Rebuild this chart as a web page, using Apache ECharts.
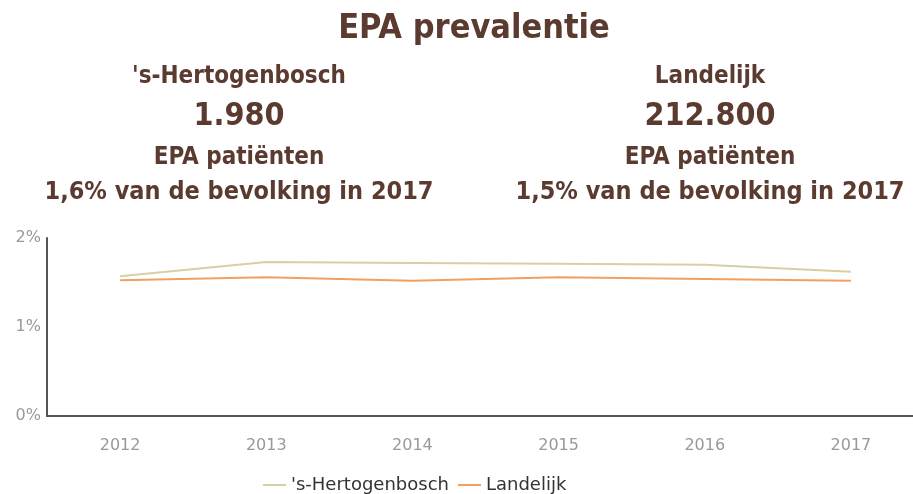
<!DOCTYPE html>
<html>
<head>
<meta charset="utf-8">
<script src="https://cdn.jsdelivr.net/npm/echarts@6/dist/echarts.min.js"></script>
<style>
  html, body { margin: 0; padding: 0; background: #fff; }
  #chart { width: 913px; height: 494px; }
</style>
</head>
<body>
<div id="chart"></div>
<script>
// Jaren op de x-as
const years = ['2012', '2013', '2014', '2015', '2016', '2017'];
// EPA-prevalentie als percentage van de bevolking
const hertogenbosch = [1.57, 1.73, 1.72, 1.71, 1.70, 1.62];
const landelijk = [1.525, 1.56, 1.52, 1.56, 1.54, 1.52];
const seriesNames = ["'s-Hertogenbosch", 'Landelijk'];
const yTicks = [0, 1, 2];

// Kerncijfers boven de grafiek
const heading = 'EPA prevalentie';
const regions = ["'s-Hertogenbosch", 'Landelijk'];
const patientCounts = ['1.980', '212.800'];
const shares = ['1,6% van de bevolking in 2017', '1,5% van de bevolking in 2017'];

const brown = '#5b3a30';
const font = '"Liberation Sans Narrow", "DejaVu Sans Condensed", "Roboto", sans-serif';
const axisFont = '"DejaVu Sans", sans-serif';
const colCenters = [234, 705];

const titles = [{
  text: heading, left: 469, top: 7, textAlign: 'center',
  textStyle: { color: brown, fontSize: 34, fontWeight: 'bold', fontFamily: font }
}];
regions.forEach((r, i) => {
  titles.push({ text: r, left: colCenters[i], top: 60, textAlign: 'center',
    textStyle: { color: brown, fontSize: 24, fontWeight: 'bold', fontFamily: font } });
  titles.push({ text: patientCounts[i], left: colCenters[i], top: 96, textAlign: 'center',
    textStyle: { color: brown, fontSize: 32, fontWeight: 'bold', fontFamily: font } });
  titles.push({ text: 'EPA patiënten', left: colCenters[i], top: 141, textAlign: 'center',
    textStyle: { color: brown, fontSize: 24, fontWeight: 'bold', fontFamily: font } });
  titles.push({ text: shares[i], left: colCenters[i], top: 175, textAlign: 'center',
    textStyle: { color: brown, fontSize: 25, fontWeight: 'bold', fontFamily: font } });
});

const chart = echarts.init(document.getElementById('chart'));
chart.setOption({
  animation: false,
  title: titles,
  legend: {
    top: 471, left: 258,
    itemWidth: 23, itemHeight: 2, itemGap: 9,
    icon: 'rect',
    textStyle: { color: '#333', fontSize: 18, fontFamily: axisFont },
    data: seriesNames
  },
  grid: { left: 47, width: 877, top: 238, height: 178, outerBoundsMode: 'none', containLabel: false },
  xAxis: {
    type: 'category', data: years, boundaryGap: true,
    axisLine: { lineStyle: { color: '#555', width: 2 } },
    axisTick: { alignWithLabel: true, length: 10, lineStyle: { color: '#444', width: 2 } },
    axisLabel: { color: '#999', fontSize: 16, margin: 22, fontFamily: axisFont }
  },
  yAxis: {
    type: 'value', min: 0, max: 2, interval: 1,
    axisLine: { show: true, lineStyle: { color: '#555', width: 2 } },
    axisTick: { show: false },
    splitLine: { show: false },
    axisLabel: { color: '#999', fontSize: 16, margin: 6, fontFamily: axisFont,
      formatter: v => yTicks.includes(v) ? v + '%' : '' }
  },
  series: [
    { name: seriesNames[0], type: 'line', data: hertogenbosch, symbol: 'none',
      lineStyle: { color: '#d8cfa4', width: 2 }, itemStyle: { color: '#d8cfa4' } },
    { name: seriesNames[1], type: 'line', data: landelijk, symbol: 'none',
      lineStyle: { color: '#f0a062', width: 2 }, itemStyle: { color: '#f0a062' } }
  ]
});
</script>
</body>
</html>
